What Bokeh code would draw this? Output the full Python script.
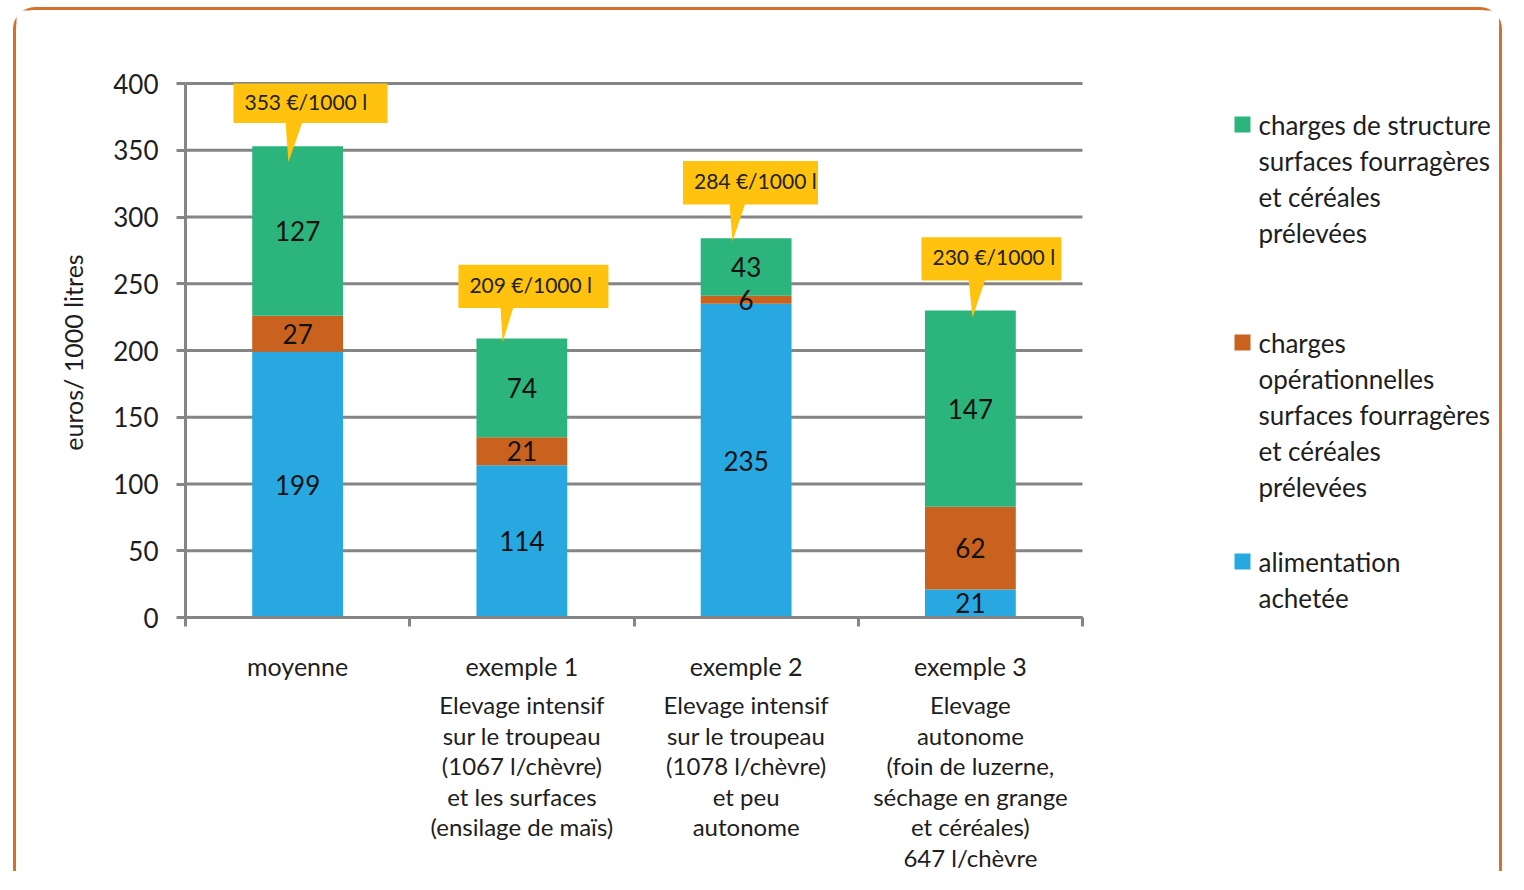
import math
from bokeh.plotting import figure
from bokeh.models import ColumnDataSource, Range1d, FixedTicker
from bokeh.core.properties import value
from bokeh.embed import file_html
from bokeh.resources import INLINE

# ---------------- data ----------------
categories = ["moyenne", "exemple 1", "exemple 2", "exemple 3"]
descriptions = [
    [],
    ["Elevage intensif", "sur le troupeau", "(1067 l/chèvre)", "et les surfaces", "(ensilage de maïs)"],
    ["Elevage intensif", "sur le troupeau", "(1078 l/chèvre)", "et peu", "autonome"],
    ["Elevage", "autonome", "(foin de luzerne,", "séchage en grange", "et céréales)", "647 l/chèvre"],
]
alimentation = [199, 114, 235, 21]
operationnelles = [27, 21, 6, 62]
structure = [127, 74, 43, 147]
totals = [353, 209, 284, 230]
y_ticks = [0, 50, 100, 150, 200, 250, 300, 350, 400]
y_label = "euros/ 1000 litres"
legend_labels = [
    ["charges de structure", "surfaces fourragères", "et céréales", "prélevées"],
    ["charges", "opérationnelles", "surfaces fourragères", "et céréales", "prélevées"],
    ["alimentation", "achetée"],
]

# ---------------- style / layout ----------------
BLUE = "#27A8E0"
ORANGE = "#C9621F"
GREEN = "#2BB47B"
YELLOW = "#FFC20F"
GRID = "#858585"
TEXT = "#1E1E1E"
FONT = value("Lato")

W, H = 1489, 864          # canvas size (whole canvas is the frame)
X0_PX, Y400_PX = 169, 73  # canvas position of x=0 and of y=400
UX = 897 / 4.0            # px per category unit
UY = 534 / 400.0          # px per euro unit

x_range = Range1d(-X0_PX / UX, (W - X0_PX) / UX)
y_range = Range1d(400 - (H - Y400_PX) / UY, 400 + Y400_PX / UY)

p = figure(width=W, height=H, x_range=x_range, y_range=y_range,
           output_backend="svg", toolbar_location=None)
p.min_border = 0
p.min_border_left = 0
p.min_border_right = 0
p.min_border_top = 0
p.min_border_bottom = 0
p.margin = (7, 0, 0, 13)
p.styles = {"border-top": "3px solid #D5702D", "border-left": "3px solid #D5702D",
            "border-right": "3px solid #D5702D", "border-radius": "22px 22px 0 0"}
p.outline_line_color = None
p.background_fill_color = "white"
p.border_fill_color = "white"
p.grid.visible = False

# y axis, fixed at x = 0
ya = p.yaxis[0]
ya.fixed_location = 0
ya.ticker = FixedTicker(ticks=y_ticks)
ya.bounds = (0, 400)
ya.axis_line_color = GRID
ya.axis_line_width = 3
ya.major_tick_line_color = GRID
ya.major_tick_line_width = 3
ya.major_tick_out = 9
ya.major_tick_in = 0
ya.minor_tick_line_color = None
ya.major_label_standoff = 18
ya.major_label_text_font = "Lato"
ya.major_label_text_font_size = "26px"
ya.major_label_text_color = TEXT

# x axis at value 0, tick marks at category boundaries
xa = p.xaxis[0]
xa.fixed_location = 0
xa.ticker = FixedTicker(ticks=[0, 1, 2, 3, 4])
xa.bounds = (0, 4)
xa.axis_line_color = GRID
xa.axis_line_width = 3
xa.major_tick_line_color = GRID
xa.major_tick_line_width = 3
xa.major_tick_out = 9
xa.major_tick_in = 0
xa.minor_tick_line_color = None
xa.major_label_overrides = {0: "", 1: "", 2: "", 3: "", 4: ""}
xa.major_label_text_font_size = "1px"

# y axis title (centred on the 0..400 axis)
p.text(x=[-113 / UX], y=[200 - 2 / UY], text=[y_label], angle=math.pi / 2,
       text_align="center", text_baseline="middle",
       text_font=FONT, text_font_size="25px", text_color=TEXT)

# horizontal gridlines across the chart area only
p.segment(x0=[0] * len(y_ticks), x1=[4] * len(y_ticks), y0=y_ticks, y1=y_ticks,
          line_color=GRID, line_width=3)

# bars
xs = [i + 0.5 for i in range(len(categories))]
src = ColumnDataSource(dict(x=xs, alim=alimentation, oper=operationnelles, struct=structure))
p.vbar_stack(["alim", "oper", "struct"], x="x", width=0.405, source=src,
             fill_color=[BLUE, ORANGE, GREEN], line_color=None)

# segment value labels
vx, vy, vt = [], [], []
for i in range(len(categories)):
    bottom = 0
    for v in (alimentation[i], operationnelles[i], structure[i]):
        vx.append(xs[i])
        vy.append(bottom + v / 2.0)
        vt.append(str(v))
        bottom += v
p.text(x=vx, y=vy, text=vt, text_align="center", text_baseline="middle",
       text_font=FONT, text_font_size="26px", text_color="#111111")

# callouts (total labels)
box_left_dx = [-0.286, -0.283, -0.2815, -0.218]
box_right_dx = [0.401, 0.386, 0.3205, 0.406]
box_gap = [17.4, 22.8, 25.4, 22.4]
box_h = 32.5
tip_dx = [-0.041, -0.086, -0.061, 0.0095]
tip_drop = [12, 3, 2.4, 5.3]
base_dx = [(-0.054, 0.022), (-0.095, -0.037), (-0.074, -0.003), (-0.008, 0.067)]

bl, br, bb, bt, tx, ty, tt = [], [], [], [], [], [], []
pxs, pys = [], []
for i, t in enumerate(totals):
    c = xs[i]
    b = t + box_gap[i]
    top = min(b + box_h, 400)
    bl.append(c + box_left_dx[i]); br.append(c + box_right_dx[i])
    bb.append(b); bt.append(top)
    tx.append(c + box_left_dx[i]); ty.append((b + top) / 2.0 + 1.5)
    tt.append(f"{t} €/1000 l")
    pxs.append([c + base_dx[i][0], c + base_dx[i][1], c + tip_dx[i]])
    pys.append([b + 1, b + 1, t - tip_drop[i]])
p.quad(left=bl, right=br, bottom=bb, top=bt, fill_color=YELLOW, line_color=None)
p.patches(xs=pxs, ys=pys, fill_color=YELLOW, line_color=None)
p.text(x=tx, y=ty, text=tt, x_offset=11, text_align="left", text_baseline="middle",
       text_font=FONT, text_font_size="21px", text_color="#222222")

# legend (drawn right of the chart)
leg_colors = [GREEN, ORANGE, BLUE]
leg_anchor_px = [41, 259, 478]   # px below the 400 line, first line of each entry
leg_pitch_px = 36
sq_x = 1057 / UX
txt_x = 1073 / UX
lx, ly, lt = [], [], []
sqy = []
for k, lines in enumerate(legend_labels):
    y0 = 400 - leg_anchor_px[k] / UY
    sqy.append(y0)
    for j, line in enumerate(lines):
        lx.append(txt_x)
        ly.append(y0 - j * leg_pitch_px / UY)
        lt.append(line)
p.scatter(x=[sq_x] * 3, y=sqy, marker="square", size=16, fill_color=leg_colors, line_color=None)
p.text(x=lx, y=ly, text=lt, text_align="left", text_baseline="middle",
       text_font=FONT, text_font_size="26px", text_color=TEXT)

# category labels below the axis
p.text(x=xs, y=[-48 / UY] * len(xs), text=categories, text_align="center",
       text_baseline="middle", text_font=FONT, text_font_size="25px", text_color=TEXT)
cx, cy, ct = [], [], []
for i in range(len(categories)):
    for j, line in enumerate(descriptions[i]):
        cx.append(xs[i]); cy.append(-(87 + j * 30.5) / UY); ct.append(line)
p.text(x=cx, y=cy, text=ct, text_align="center", text_baseline="middle",
       text_font=FONT, text_font_size="24px", text_color=TEXT)

open("out.html", "w").write(file_html(p, INLINE))
